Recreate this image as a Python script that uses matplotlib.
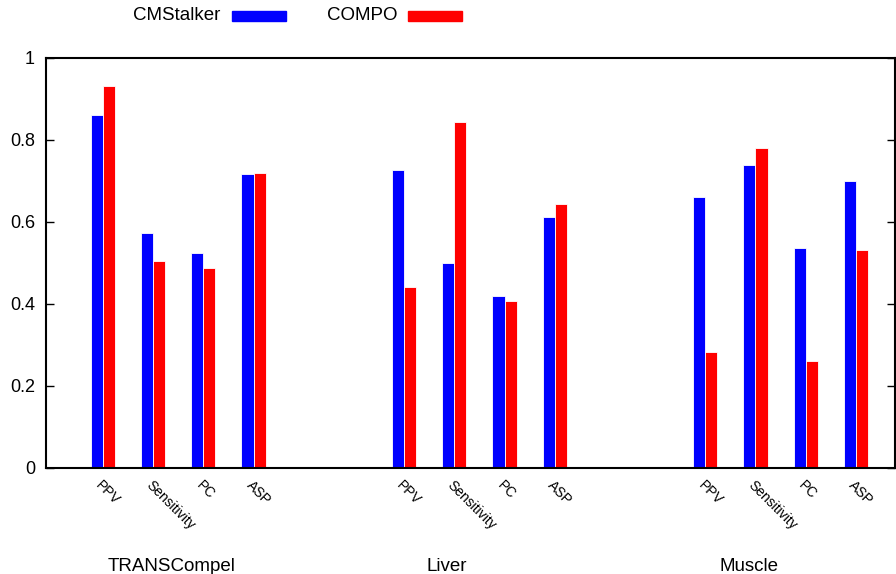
import matplotlib
matplotlib.use("Agg")
import matplotlib.pyplot as plt
from matplotlib.patches import Rectangle

plt.rcParams["font.family"] = ["Liberation Sans", "DejaVu Sans"]

groups = ["TRANSCompel", "Liver", "Muscle"]
metrics = ["PPV", "Sensitivity", "PC", "ASP"]
series = ["CMStalker", "COMPO"]
colors = ["#0000ff", "#ff0000"]

cmstalker = [0.861, 0.573, 0.524, 0.717,
             0.727, 0.500, 0.420, 0.612,
             0.661, 0.739, 0.537, 0.700]
compo = [0.932, 0.505, 0.488, 0.720,
         0.441, 0.844, 0.407, 0.644,
         0.283, 0.780, 0.261, 0.532]

# metric slots: 4 per group, 2 empty slots between groups
pos = [g * 6 + m for g in range(len(groups)) for m in range(len(metrics))]
labels = [metrics[i % 4] for i in range(len(pos))]
group_x = [1.37, 6.85, 12.87]
w = 0.24

fig = plt.figure(figsize=(8.96, 5.74), dpi=100)
ax = fig.add_axes([46 / 896, 106 / 574, 849 / 896, 410 / 574])

ax.bar([p - w for p in pos], cmstalker, w, align="edge", color=colors[0],
       edgecolor="white", linewidth=0.6, zorder=2)
ax.bar(pos, compo, w, align="edge", color=colors[1],
       edgecolor="white", linewidth=0.6, zorder=2)

ax.set_xlim(-1.135, 15.78)
ax.set_ylim(0, 1)
ax.set_yticks([0, 0.2, 0.4, 0.6, 0.8, 1])
ax.set_yticklabels(["0", "0.2", "0.4", "0.6", "0.8", "1"])
ax.tick_params(axis="y", direction="in", length=6, width=1, right=True,
               labelsize=13, pad=8)
ax.set_xticks(pos)
ax.set_xticklabels(labels, rotation=-45, ha="left", va="top",
                   rotation_mode="anchor", fontsize=10)
ax.tick_params(axis="x", length=0, pad=7)
for s in ax.spines.values():
    s.set_linewidth(1.5)

for gx, name in zip(group_x, groups):
    ax.text(gx, -0.24, name, transform=ax.get_xaxis_transform(),
            ha="center", va="center", fontsize=13.5)

# legend drawn gnuplot-style: text then swatch
leg_text_right = [220, 397]
leg_swatch_left = [232, 408]
for name, col, tr, sl in zip(series, colors, leg_text_right, leg_swatch_left):
    fig.text(tr / 896, 1 - 16 / 574, name, ha="right", va="center", fontsize=13.5)
    fig.patches.append(Rectangle((sl / 896, 1 - 20.5 / 574), 54 / 896, 9.5 / 574,
                                 transform=fig.transFigure, color=col))

fig.savefig("out.png", dpi=100)
